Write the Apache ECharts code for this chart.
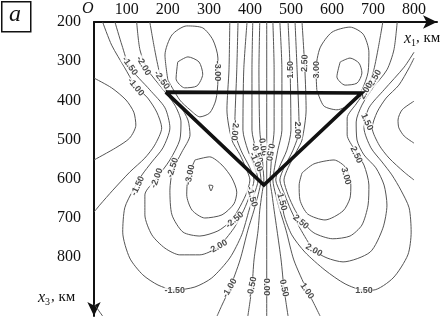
<!DOCTYPE html>
<html><head><meta charset="utf-8">
<script src="https://cdn.jsdelivr.net/npm/echarts@6/dist/echarts.min.js"></script>
<style>html,body{margin:0;padding:0;background:#fff}#c{width:448px;height:321px}</style>
</head><body><div id="c"></div>
<script>
// Axis tick labels
const xTicks = [100, 200, 300, 400, 500, 600, 700, 800];
const yTicks = [200, 300, 400, 500, 600, 700, 800];

// Thick triangle (x1, x3 in km)
const triangle = [[195, 379], [672, 381], [434, 616], [195, 379]];

// Contour lines: [x1 km, x3 km]
const cN05L = [[20,343],[63,368],[98,399],[117,430],[122,463],[107,496],[73,521],[20,552]];
const cN10L = [[41,200],[63,259],[95,317],[120,361],[151,394],[173,430],[185,470],[168,514],[144,547],[107,583],[66,629],[34,667],[20,685]];
const cN10Corner = [[20,919],[32,937],[41,950]];
const cN15L = [[71,200],[88,259],[107,315],[156,373],[193,419],[205,470],[188,521],[161,557],[137,590],[115,629],[95,674],[90,736],[107,802],[139,845],[176,871],[217,884],[266,876],[307,853],[351,802],[380,743],[398,680],[410,641],[420,603],[412,572],[395,527],[383,476],[385,322],[393,200]];
const cN20L = [[124,200],[132,271],[151,322],[185,368],[217,412],[232,455],[229,501],[205,552],[173,598],[144,641],[144,692],[161,743],[193,777],[229,794],[278,794],[322,774],[361,726],[385,680],[400,641],[410,603],[400,572],[378,527],[363,476],[368,322],[371,200]];
const cN25L = [[156,200],[168,271],[180,330],[195,373],[229,412],[249,450],[254,488],[234,532],[212,578],[205,629],[210,692],[237,736],[278,746],[322,733],[351,710],[371,680],[390,641],[400,603],[390,572],[376,539],[356,501],[344,424],[349,322],[351,200]];
const cN30UL = [[200,348],[193,284],[210,233],[246,210],[285,215],[310,246],[322,292],[322,348],[317,399],[302,432],[278,442],[254,424],[229,399],[200,348]];
const cN35UL = [[224,302],[249,289],[276,302],[285,333],[271,363],[241,368],[220,345],[224,302]];
const cN30LL = [[266,552],[302,544],[332,565],[356,598],[368,634],[361,664],[332,692],[290,700],[259,680],[246,641],[249,598],[266,552]];
const cN35LL = [[300,616],[310,618],[305,631],[300,616]];
const cN10C = [[407,200],[405,322],[405,476],[415,527],[423,572],[427,603],[420,641],[410,680],[395,731],[376,807],[351,879],[332,922],[320,950]];
const cN05C = [[424,200],[422,322],[424,476],[429,527],[432,572],[434,603],[429,641],[424,680],[420,731],[410,807],[405,876],[395,950]];
const c00 = [[441,200],[441,950]];
const c05C = [[456,200],[459,322],[459,476],[454,527],[451,572],[449,603],[454,641],[459,680],[466,731],[476,807],[483,879],[493,950]];
const c10C = [[473,200],[478,322],[478,476],[468,527],[460,572],[456,603],[463,641],[473,680],[488,731],[507,807],[539,884],[554,914],[571,950]];
const c15R = [[493,200],[498,322],[500,476],[490,527],[471,572],[463,603],[476,641],[483,692],[502,743],[534,787],[583,833],[632,868],[678,884],[700,884],[749,853],[785,794],[793,736],[788,674],[768,629],[746,590],[722,557],[695,521],[678,470],[690,419],[727,373],[776,315],[800,277]];
const c20R = [[510,200],[515,322],[520,476],[505,527],[483,572],[473,603],[485,641],[500,680],[522,726],[556,782],[588,802],[627,812],[693,787],[724,726],[734,667],[727,616],[707,572],[678,539],[661,501],[659,455],[673,412],[700,368],[734,322],[751,271],[759,200]];
const c25R = [[527,200],[534,322],[537,424],[527,501],[515,527],[493,572],[483,603],[493,641],[510,680],[529,710],[556,738],[602,753],[644,746],[673,718],[688,667],[690,616],[678,565],[656,527],[637,488],[637,445],[659,409],[683,373],[700,330],[712,271],[724,200]];
const c30UR = [[563,373],[561,322],[571,266],[600,226],[644,213],[676,231],[690,277],[688,328],[673,373],[649,407],[612,424],[580,414],[563,373]];
const c35UR = [[620,302],[644,292],[666,305],[673,330],[661,356],[632,361],[612,340],[620,302]];
const c30LR = [[527,585],[556,562],[605,552],[634,572],[646,616],[644,649],[627,682],[583,705],[541,690],[522,654],[520,616],[527,585]];
const c05R = [[800,402],[771,424],[761,450],[763,470],[776,491],[800,509]];
const c10R = [[800,292],[788,317],[763,361],[732,394],[710,430],[698,470],[715,514],[739,547],[776,583],[800,603]];

// Contour labels: [x1, x3, text, rotation deg (ccw)]
const contourLabels = [
  [107,312,'-1.50',-55],[141,312,'-2.00',-60],[185,348,'-2.50',-55],[122,366,'-1.00',-50],
  [320,325,'-3.00',-90],[363,476,'-2.00',-95],
  [432,519,'0.00',-80],[417,534,'-0.50',-70],[415,557,'-1.00',-65],[449,532,'0.50',-100],
  [405,646,'-1.50',-75],[478,659,'1.50',-75],
  [127,618,'-1.50',65],[173,598,'-2.00',70],[212,572,'-2.50',72],[254,590,'-3.00',78],
  [217,884,'-1.50',0],[363,705,'-2.50',40],[322,774,'-2.00',30],
  [351,879,'-1.00',60],[405,876,'-0.50',78],[441,876,'0.00',-90],[483,879,'0.50',-78],[539,886,'1.00',-55],
  [498,322,'1.50',90],[534,305,'2.50',88],[563,322,'3.00',90],[517,476,'2.00',-90],
  [705,343,'2.50',60],[683,376,'2.00',60],[685,455,'1.50',-65],[659,539,'2.50',-65],
  [634,593,'3.00',-75],[524,710,'2.50',-40],[556,782,'2.00',-30],[678,884,'1.50',0]
];

const contours = [cN05L,cN10L,cN10Corner,cN15L,cN20L,cN25L,cN30UL,cN35UL,cN30LL,cN35LL,cN10C,cN05C,c00,c05C,c10C,c15R,c20R,c25R,c30UR,c35UR,c30LR,c05R,c10R];

const chart = echarts.init(document.getElementById('c'), null, {renderer:'canvas'});
const serif = 'Liberation Serif, Times New Roman, serif';
const series = contours.map(pts => ({
  type:'line', data:pts, showSymbol:false, symbol:'none', smooth:0.25,
  lineStyle:{color:'#555', width:1}, silent:true, z:2, animation:false
}));
series.push({
  type:'line', data:triangle, showSymbol:false, symbol:'none', smooth:false,
  lineStyle:{color:'#111', width:3.6, join:'miter'}, silent:true, z:5, animation:false
});
series.push({
  type:'scatter', symbol:'circle', symbolSize:1, itemStyle:{color:'rgba(0,0,0,0)'}, silent:true, z:4,
  animation:false,
  data: contourLabels.map(l => ({value:[l[0], l[1]], label:{formatter:l[2], rotate:l[3]}})),
  label:{show:true, position:'inside', fontFamily:'Liberation Sans, Arial, sans-serif', fontSize:9,
    fontWeight:'bold', color:'#1a1a1a', backgroundColor:'#fff', padding:[0,0]}
});

chart.setOption({
  animation:false,
  backgroundColor:'#fff',
  grid:{left:94, right:11, top:22, bottom:5, containLabel:false},
  xAxis:{type:'value', position:'top', min:20, max:856,
    axisLine:{show:true, onZero:false, lineStyle:{color:'#111', width:2}, symbol:['none','arrow'], symbolSize:[10,14], symbolOffset:[0,0]},
    axisTick:{show:false}, splitLine:{show:false},
    axisLabel:{customValues:xTicks, fontFamily:serif, fontSize:16, color:'#111', margin:4}},
  yAxis:{type:'value', inverse:true, min:200, max:950,
    axisLine:{show:true, onZero:false, lineStyle:{color:'#111', width:2}, symbol:['arrow','none'], symbolSize:[10,14], symbolOffset:[0,0]},
    axisTick:{show:false}, splitLine:{show:false},
    axisLabel:{customValues:yTicks, fontFamily:serif, fontSize:16, color:'#111', margin:13}},
  graphic:[
    {type:'rect', left:1, top:1, shape:{width:29, height:30}, style:{fill:'#fff', stroke:'#111', lineWidth:1.5}},
    {type:'text', left:9, top:3, style:{text:'a', font:'italic 24px '+serif, fill:'#111'}},
    {type:'text', left:82, top:1, style:{text:'O', font:'italic 16px '+serif, fill:'#111'}},
    {type:'text', left:404, top:31, style:{text:'x', font:'italic 16px '+serif, fill:'#111'}},
    {type:'text', left:411, top:38, style:{text:'1', font:'10px '+serif, fill:'#111'}},
    {type:'text', left:416, top:31, style:{text:', км', font:'15px '+serif, fill:'#111'}},
    {type:'text', left:38, top:290, style:{text:'x', font:'italic 16px '+serif, fill:'#111'}},
    {type:'text', left:45, top:297, style:{text:'3', font:'10px '+serif, fill:'#111'}},
    {type:'text', left:51, top:290, style:{text:', км', font:'15px '+serif, fill:'#111'}}
  ],
  series: series
});
</script></body></html>
